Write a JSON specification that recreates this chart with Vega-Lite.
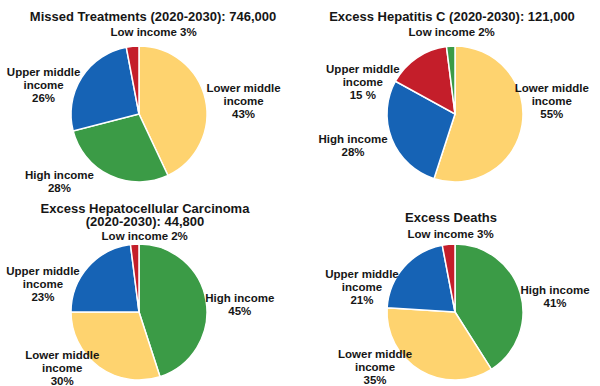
{
  "$schema": "https://vega.github.io/schema/vega-lite/v6.json",
  "background": "white",
  "padding": {"left": 6, "top": 11, "right": 5, "bottom": 5},
  "bounds": "flush",
  "columns": 2,
  "spacing": {"row": 62, "column": 180},
  "resolve": {"scale": {"color": "independent", "theta": "independent"}},
  "config": {
    "view": {"stroke": null},
    "font": "Liberation Sans",
    "title": {"fontSize": 13, "fontWeight": "bold", "font": "Liberation Sans", "color": "#161616", "anchor": "middle", "lineHeight": 13},
    "text": {"font": "Liberation Sans", "fontWeight": "bold", "fontSize": 11.5, "lineHeight": 13, "align": "center", "baseline": "middle", "color": "#161616", "lineBreak": "\n"},
    "arc": {"stroke": "white", "strokeWidth": 1.5}
  },
  "data": {
    "values": [
      {"panel": "Missed", "cat": "Lower middle income", "value": 43, "label": "Lower middle\nincome\n43%"},
      {"panel": "Missed", "cat": "High income", "value": 28, "label": "High income\n28%"},
      {"panel": "Missed", "cat": "Upper middle income", "value": 26, "label": "Upper middle\nincome\n26%"},
      {"panel": "Missed", "cat": "Low income", "value": 3, "label": "Low income 3%"},
      {"panel": "HepC", "cat": "Lower middle income", "value": 55, "label": "Lower middle\nincome\n55%"},
      {"panel": "HepC", "cat": "High income", "value": 28, "label": "High income\n28%"},
      {"panel": "HepC", "cat": "Upper middle income", "value": 15, "label": "Upper middle\nincome\n15 %"},
      {"panel": "HepC", "cat": "Low income", "value": 2, "label": "Low income 2%"},
      {"panel": "HCC", "cat": "High income", "value": 45, "label": "High income\n45%"},
      {"panel": "HCC", "cat": "Lower middle income", "value": 30, "label": "Lower middle\nincome\n30%"},
      {"panel": "HCC", "cat": "Upper middle income", "value": 23, "label": "Upper middle\nincome\n23%"},
      {"panel": "HCC", "cat": "Low income", "value": 2, "label": "Low income 2%"},
      {"panel": "Deaths", "cat": "High income", "value": 41, "label": "High income\n41%"},
      {"panel": "Deaths", "cat": "Lower middle income", "value": 35, "label": "Lower middle\nincome\n35%"},
      {"panel": "Deaths", "cat": "Upper middle income", "value": 21, "label": "Upper middle\nincome\n21%"},
      {"panel": "Deaths", "cat": "Low income", "value": 3, "label": "Low income 3%"}
    ]
  },
  "concat": [
    {
      "title": {"text": "Missed Treatments (2020-2030): 746,000", "dx": 14, "offset": 3},
      "width": 136, "height": 136,
      "transform": [
        {"filter": "datum.panel === 'Missed'"},
        {"window": [{"op": "row_number", "as": "idx"}, {"op": "sum", "field": "value", "as": "cum"}]},
        {"calculate": "datum.cum - datum.value / 2", "as": "mid"}
      ],
      "layer": [
        {
          "mark": {"type": "arc"},
          "encoding": {
            "theta": {"field": "value", "type": "quantitative", "stack": true, "scale": {"domain": [0, 100]}},
            "order": {"field": "idx", "type": "quantitative"},
            "color": {"field": "cat", "type": "nominal", "legend": null,
              "scale": {"domain": ["Lower middle income", "High income", "Upper middle income", "Low income"], "range": ["#FED36F", "#3B9B46", "#1663B5", "#C41E2A"]}}
          }
        },
        {"transform": [{"filter": "datum.cat === 'Lower middle income'"}], "mark": {"type": "text", "radius": 100, "dx": 7, "dy": -3},
          "encoding": {"theta": {"field": "mid", "type": "quantitative", "stack": null}, "text": {"field": "label"}}},
        {"transform": [{"filter": "datum.cat === 'High income'"}], "mark": {"type": "text", "radius": 100, "dx": -37, "dy": -28},
          "encoding": {"theta": {"field": "mid", "type": "quantitative", "stack": null}, "text": {"field": "label"}}},
        {"transform": [{"filter": "datum.cat === 'Upper middle income'"}], "mark": {"type": "text", "radius": 100, "dx": -11, "dy": 13},
          "encoding": {"theta": {"field": "mid", "type": "quantitative", "stack": null}, "text": {"field": "label"}}},
        {"transform": [{"filter": "datum.cat === 'Low income'"}], "mark": {"type": "text", "radius": 100, "dx": 24, "dy": 19},
          "encoding": {"theta": {"field": "mid", "type": "quantitative", "stack": null}, "text": {"field": "label"}}}
      ]
    },
    {
      "title": {"text": "Excess Hepatitis C (2020-2030): 121,000", "dx": -3, "offset": 3},
      "width": 136, "height": 136,
      "transform": [
        {"filter": "datum.panel === 'HepC'"},
        {"window": [{"op": "row_number", "as": "idx"}, {"op": "sum", "field": "value", "as": "cum"}]},
        {"calculate": "datum.cum - datum.value / 2", "as": "mid"}
      ],
      "layer": [
        {
          "mark": {"type": "arc"},
          "encoding": {
            "theta": {"field": "value", "type": "quantitative", "stack": true, "scale": {"domain": [0, 100]}},
            "order": {"field": "idx", "type": "quantitative"},
            "color": {"field": "cat", "type": "nominal", "legend": null,
              "scale": {"domain": ["Lower middle income", "High income", "Upper middle income", "Low income"], "range": ["#FED36F", "#1663B5", "#C41E2A", "#3B9B46"]}}
          }
        },
        {"transform": [{"filter": "datum.cat === 'Lower middle income'"}], "mark": {"type": "text", "radius": 100, "dx": -2, "dy": -41},
          "encoding": {"theta": {"field": "mid", "type": "quantitative", "stack": null}, "text": {"field": "label"}}},
        {"transform": [{"filter": "datum.cat === 'High income'"}], "mark": {"type": "text", "radius": 100, "dx": -9, "dy": -11},
          "encoding": {"theta": {"field": "mid", "type": "quantitative", "stack": null}, "text": {"field": "label"}}},
        {"transform": [{"filter": "datum.cat === 'Upper middle income'"}], "mark": {"type": "text", "radius": 100, "dx": -36, "dy": 39},
          "encoding": {"theta": {"field": "mid", "type": "quantitative", "stack": null}, "text": {"field": "label"}}},
        {"transform": [{"filter": "datum.cat === 'Low income'"}], "mark": {"type": "text", "radius": 100, "dx": 3, "dy": 19},
          "encoding": {"theta": {"field": "mid", "type": "quantitative", "stack": null}, "text": {"field": "label"}}}
      ]
    },
    {
      "title": {"text": ["Excess Hepatocellular Carcinoma", "(2020-2030): 44,800"], "dx": 6, "offset": 2},
      "width": 136, "height": 136,
      "transform": [
        {"filter": "datum.panel === 'HCC'"},
        {"window": [{"op": "row_number", "as": "idx"}, {"op": "sum", "field": "value", "as": "cum"}]},
        {"calculate": "datum.cum - datum.value / 2", "as": "mid"}
      ],
      "layer": [
        {
          "mark": {"type": "arc"},
          "encoding": {
            "theta": {"field": "value", "type": "quantitative", "stack": true, "scale": {"domain": [0, 100]}},
            "order": {"field": "idx", "type": "quantitative"},
            "color": {"field": "cat", "type": "nominal", "legend": null,
              "scale": {"domain": ["High income", "Lower middle income", "Upper middle income", "Low income"], "range": ["#3B9B46", "#FED36F", "#1663B5", "#C41E2A"]}}
          }
        },
        {"transform": [{"filter": "datum.cat === 'High income'"}], "mark": {"type": "text", "radius": 100, "dx": 2, "dy": 3},
          "encoding": {"theta": {"field": "mid", "type": "quantitative", "stack": null}, "text": {"field": "label"}}},
        {"transform": [{"filter": "datum.cat === 'Lower middle income'"}], "mark": {"type": "text", "radius": 100, "dx": -18, "dy": -37},
          "encoding": {"theta": {"field": "mid", "type": "quantitative", "stack": null}, "text": {"field": "label"}}},
        {"transform": [{"filter": "datum.cat === 'Upper middle income'"}], "mark": {"type": "text", "radius": 100, "dx": -21, "dy": 26},
          "encoding": {"theta": {"field": "mid", "type": "quantitative", "stack": null}, "text": {"field": "label"}}},
        {"transform": [{"filter": "datum.cat === 'Low income'"}], "mark": {"type": "text", "radius": 100, "dx": 12, "dy": 25},
          "encoding": {"theta": {"field": "mid", "type": "quantitative", "stack": null}, "text": {"field": "label"}}}
      ]
    },
    {
      "title": {"text": "Excess Deaths", "dx": -4, "offset": 4},
      "width": 136, "height": 136,
      "transform": [
        {"filter": "datum.panel === 'Deaths'"},
        {"window": [{"op": "row_number", "as": "idx"}, {"op": "sum", "field": "value", "as": "cum"}]},
        {"calculate": "datum.cum - datum.value / 2", "as": "mid"}
      ],
      "layer": [
        {
          "mark": {"type": "arc"},
          "encoding": {
            "theta": {"field": "value", "type": "quantitative", "stack": true, "scale": {"domain": [0, 100]}},
            "order": {"field": "idx", "type": "quantitative"},
            "color": {"field": "cat", "type": "nominal", "legend": null,
              "scale": {"domain": ["High income", "Lower middle income", "Upper middle income", "Low income"], "range": ["#3B9B46", "#FED36F", "#1663B5", "#C41E2A"]}}
          }
        },
        {"transform": [{"filter": "datum.cat === 'High income'"}], "mark": {"type": "text", "radius": 100, "dx": 4, "dy": 7},
          "encoding": {"theta": {"field": "mid", "type": "quantitative", "stack": null}, "text": {"field": "label"}}},
        {"transform": [{"filter": "datum.cat === 'Lower middle income'"}], "mark": {"type": "text", "radius": 100, "dx": -29, "dy": -43},
          "encoding": {"theta": {"field": "mid", "type": "quantitative", "stack": null}, "text": {"field": "label"}}},
        {"transform": [{"filter": "datum.cat === 'Upper middle income'"}], "mark": {"type": "text", "radius": 100, "dx": -18, "dy": 29},
          "encoding": {"theta": {"field": "mid", "type": "quantitative", "stack": null}, "text": {"field": "label"}}},
        {"transform": [{"filter": "datum.cat === 'Low income'"}], "mark": {"type": "text", "radius": 100, "dx": 5, "dy": 23},
          "encoding": {"theta": {"field": "mid", "type": "quantitative", "stack": null}, "text": {"field": "label"}}}
      ]
    }
  ]
}
